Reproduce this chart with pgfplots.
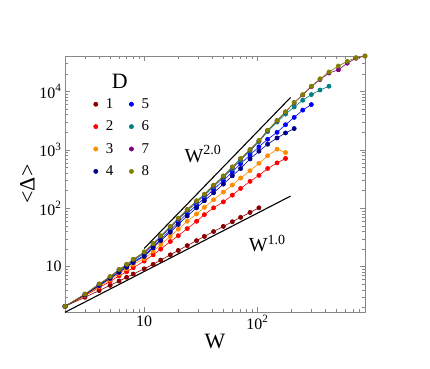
\documentclass[border=0pt]{standalone}
\usepackage{fontspec}
\setmainfont{Liberation Serif}
\usepackage{pgfplots}
\pgfplotsset{compat=1.18}

\definecolor{cD1}{HTML}{8B0000}
\definecolor{cD2}{HTML}{FF0000}
\definecolor{cD3}{HTML}{FF8C00}
\definecolor{cD4}{HTML}{00008B}
\definecolor{cD5}{HTML}{0000FF}
\definecolor{cD6}{HTML}{008080}
\definecolor{cD7}{HTML}{800080}
\definecolor{cD8}{HTML}{808000}
\definecolor{axgray}{HTML}{888888}

\begin{document}
\begin{tikzpicture}
\useasboundingbox (0,0) rectangle (430bp,369bp);
\begin{axis}[
    at={(65bp,57bp)}, anchor=south west,
    width=300bp, height=256bp, scale only axis,
    xmode=log, ymode=log,
    xmin=2, xmax=890, ymin=1.68, ymax=40500,
    clip=false,
    axis line style={axgray, line width=0.8bp},
    every tick/.style={axgray, line width=0.6bp},
    tick align=inside,
    major tick length=5bp, minor tick length=3bp,
    xtick={10,100}, xticklabels={10, 10\textsuperscript{2}},
    ytick={10,100,1000,10000},
    yticklabels={10, 10\textsuperscript{2}, 10\textsuperscript{3}, 10\textsuperscript{4}},
    minor xtick={3,4,5,6,7,8,9,20,30,40,50,60,70,80,90,200,300,400,500,600,700,800},
    minor ytick={2,3,4,5,6,7,8,9,20,30,40,50,60,70,80,90,200,300,400,500,600,700,800,900,2000,3000,4000,5000,6000,7000,8000,9000,20000,30000,40000},
    tick label style={font=\fontsize{16}{16}\selectfont},
    xlabel={W}, ylabel={<Δ>},
    label style={font=\fontsize{22}{22}\selectfont},
    xlabel style={yshift=2bp},
    ylabel style={yshift=-2bp},
    legend columns=2,
    legend cell align=left,
    legend image code/.code={\draw[#1,only marks] plot coordinates {(0bp,0bp)};},
    legend style={at={(0.085,0.85)}, anchor=north west, draw=none, fill=none,
        font=\fontsize{15}{15}\selectfont, row sep=7bp,
        /tikz/every odd column/.append style={column sep=6bp},
        /tikz/every even column/.append style={column sep=14bp}},
    every axis plot/.append style={mark=*, line width=0.6bp, mark size=2.1bp},
]
% reference slopes
\addplot[black, line width=1.1bp, mark=none, forget plot] coordinates {(10,20.5) (196,7900)};
\addplot[black, line width=1.1bp, mark=none, forget plot] coordinates {(2,1.66) (196,162)};

\addplot[cD1] coordinates {(2,2.1)(3,3.0)(4,3.9)(5,4.8)(6,5.7)(7,6.6)(8,7.5)(10,9.2)(12,11)(14,13)(17,16)(20,19)(24,23)(29,28)(34,33)(41,40)(50,49)(60,59)(71,70)(86,85)(103,102)};
\addplot[cD5] coordinates {(2,2.1)(3,3.3)(4,4.8)(5,6.4)(6,8.2)(7,10.1)(8,12.2)(10,15.5)(12,22)(14,29.5)(17,42)(20,58)(24,82)(29,113)(34,150)(41,210)(50,300)(60,420)(71,580)(86,820)(103,1130)(123,1520)(149,2000)(177,2700)(211,3600)(251,4800)(299,5970)};
\addplot[cD2] coordinates {(2,2.1)(3,3.2)(4,4.4)(5,5.6)(6,7.0)(7,8.2)(8,9.6)(10,12.5)(12,16)(14,20)(17,27)(20,34)(24,45)(29,60)(34,78)(41,102)(50,129)(60,168)(71,219)(86,289)(103,366)(123,480)(149,600)(177,713)};
\addplot[cD6] coordinates {(2,2.1)(3,3.35)(4,4.95)(5,6.6)(6,8.6)(7,10.5)(8,12.8)(10,16.8)(12,23.5)(14,32)(17,46)(20,64)(24,90)(29,126)(34,165)(41,235)(50,335)(60,475)(71,660)(86,960)(103,1380)(123,2060)(149,3000)(177,4100)(211,5430)(251,7080)(299,8850)(357,10600)(428,12300)};
\addplot[cD3] coordinates {(2,2.1)(3,3.25)(4,4.6)(5,6.0)(6,7.6)(7,9.2)(8,11)(10,13.8)(12,18.5)(14,24)(17,33)(20,44)(24,60)(29,80)(34,104)(41,140)(50,190)(60,250)(71,330)(86,440)(103,590)(123,795)(149,1030)(177,900)};
\addplot[cD7] coordinates {(2,2.1)(3,3.4)(4,5.0)(5,6.7)(6,8.9)(7,10.8)(8,13.2)(10,17.6)(12,24.5)(14,33)(17,48)(20,66)(24,94)(29,132)(34,172)(41,245)(50,352)(60,505)(71,700)(86,1000)(103,1430)(123,2150)(149,3150)(177,4450)(211,6400)(251,8700)(299,12100)(357,16000)(428,20700)(518,23500)(620,30500)(740,37000)(890,40500)};
\addplot[cD4] coordinates {(2,2.1)(3,3.3)(4,4.75)(5,6.3)(6,8.0)(7,9.8)(8,11.8)(10,15)(12,21)(14,28)(17,39)(20,53)(24,74)(29,102)(34,135)(41,185)(50,260)(60,360)(71,480)(86,700)(103,950)(123,1250)(149,1600)(177,1950)(211,2320)};
\addplot[cD8] coordinates {(2,2.1)(3,3.4)(4,5.1)(5,6.8)(6,9.0)(7,11)(8,13.4)(10,18)(12,25)(14,34)(17,49)(20,68)(24,96)(29,135)(34,175)(41,250)(50,360)(60,513)(71,713)(86,1016)(103,1450)(123,2170)(149,3200)(177,4500)(211,6500)(251,8850)(299,12300)(357,16500)(428,21500)(518,27300)(620,32800)(740,38000)(890,40500)};
\legend{1,5,2,6,3,7,4,8}

\node[font=\fontsize{22}{22}\selectfont] at (rel axis cs:0.183,0.9) {D};
\node[font=\fontsize{20}{20}\selectfont] at (axis cs:33,850) {W\textsuperscript{2.0}};
\node[font=\fontsize{20}{20}\selectfont] at (axis cs:122,25) {W\textsuperscript{1.0}};
\end{axis}
\end{tikzpicture}
\end{document}
